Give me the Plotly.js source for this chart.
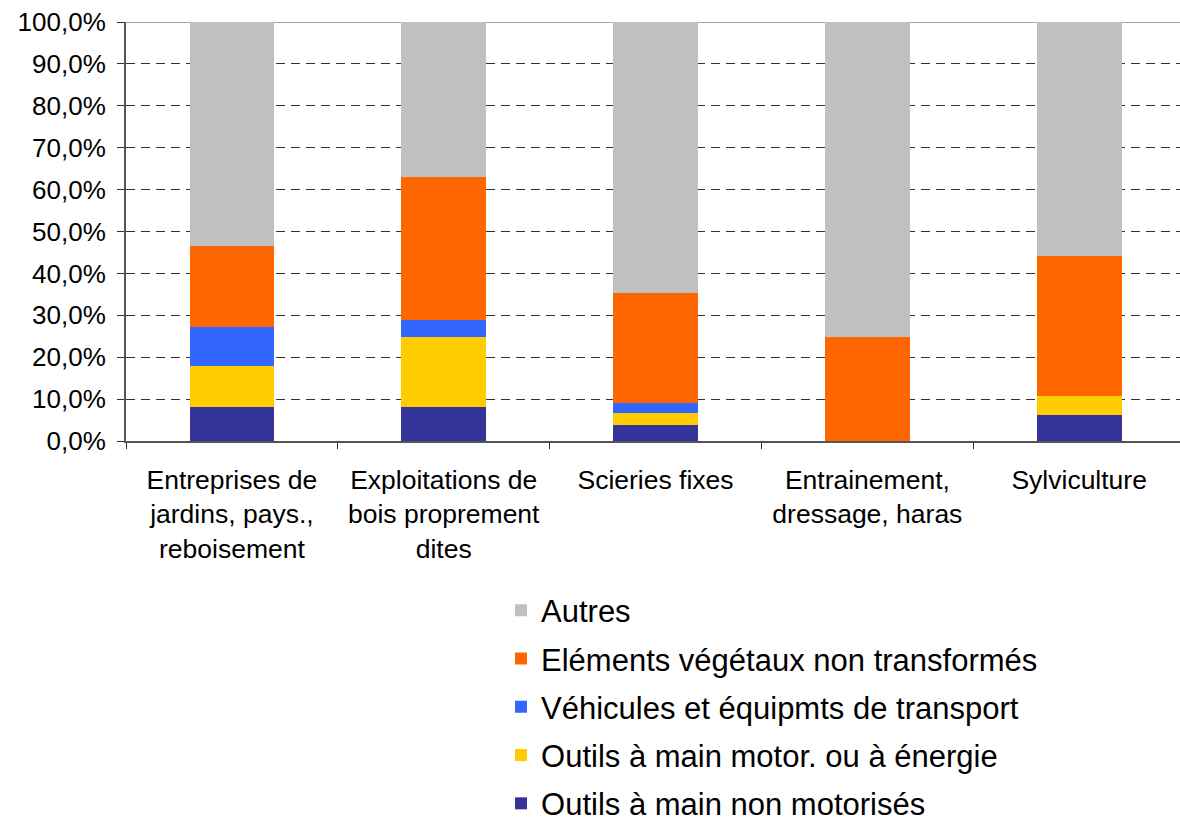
<!DOCTYPE html>
<html>
<head>
<meta charset="utf-8">
<script src="https://cdn.plot.ly/plotly-3.0.1.min.js"></script>
<style>html,body{margin:0;padding:0;background:#fff;}#chart{width:1180px;height:821px;}</style>
</head>
<body>
<div id="chart"></div>
<script>
const categories = [
  "Entreprises de<br>jardins, pays.,<br>reboisement",
  "Exploitations de<br>bois proprement<br>dites",
  "Scieries fixes",
  "Entrainement,<br>dressage, haras",
  "Sylviculture"
];
const seriesNames = [
  "Outils à main non motorisés",
  "Outils à main motor. ou à énergie",
  "Véhicules et équipmts de transport",
  "Eléments végétaux non transformés",
  "Autres"
];
const outilsNonMotorises = [8.0, 8.0, 3.75, 0, 6.2];
const outilsMotorises = [9.9, 16.8, 2.95, 0, 4.6];
const vehicules = [9.3, 4.1, 2.4, 0, 0];
const elementsVegetaux = [19.4, 34.0, 26.3, 24.85, 33.4];
const autres = [53.4, 37.1, 64.6, 75.15, 55.8];
const seriesColors = ["#333399", "#FFCC00", "#3366FF", "#FF6600", "#C0C0C0"];
const yTickVals = [0, 10, 20, 30, 40, 50, 60, 70, 80, 90, 100];
const yTickText = ["0,0%", "10,0%", "20,0%", "30,0%", "40,0%", "50,0%", "60,0%", "70,0%", "80,0%", "90,0%", "100,0%"];

const allSeries = [outilsNonMotorises, outilsMotorises, vehicules, elementsVegetaux, autres];
const traces = allSeries.map((vals, i) => ({
  type: "bar",
  name: seriesNames[i],
  x: categories,
  y: vals,
  width: 0.4,
  legendgroup: "g" + i,
  legendrank: 100 - i,
  marker: {color: seriesColors[i], line: {width: 0}},
  hoverinfo: "name+y"
}));

const font = "'Liberation Sans', Arial, sans-serif";
const layout = {
  width: 1180,
  height: 821,
  paper_bgcolor: "#fff",
  plot_bgcolor: "#fff",
  barmode: "stack",
  margin: {l: 126, r: 0, t: 22, b: 380, pad: 0, autoexpand: false},
  font: {family: font, size: 26, color: "#000"},
  xaxis: {
    type: "category",
    range: [-0.5, 4.476],
    showline: true,
    linecolor: "#555",
    linewidth: 2,
    ticks: "outside",
    tickson: "boundaries",
    ticklen: 6,
    tickcolor: "#333",
    tickangle: 0,
    automargin: false,
    tickfont: {family: font, size: 26.5, color: "#000"},
    ticklabelstandoff: 14,
    showgrid: false,
    fixedrange: true
  },
  yaxis: {
    range: [0, 100],
    tickvals: yTickVals,
    ticktext: yTickText,
    showline: true,
    linecolor: "#555",
    linewidth: 2,
    ticks: "outside",
    ticklen: 7,
    tickcolor: "#333",
    automargin: false,
    tickfont: {family: font, size: 26, color: "#000"},
    ticklabelstandoff: 6,
    showgrid: true,
    gridcolor: "#333",
    gridwidth: 1,
    griddash: "9px,6px",
    zeroline: false,
    fixedrange: true
  },
  shapes: [{
    type: "line", xref: "paper", yref: "y", x0: 0, x1: 1, y0: 100, y1: 100,
    line: {color: "#888", width: 1.5}, layer: "below"
  }],
  showlegend: true,
  legend: {
    xref: "container", yref: "container",
    x: 0.4246, y: 0.2893,
    xanchor: "left", yanchor: "top",
    traceorder: "grouped",
    tracegroupgap: 5,
    font: {family: font, size: 31, color: "#000"},
    bgcolor: "rgba(0,0,0,0)"
  }
};

Plotly.newPlot("chart", traces, layout, {displayModeBar: false, staticPlot: true});
</script>
</body>
</html>
